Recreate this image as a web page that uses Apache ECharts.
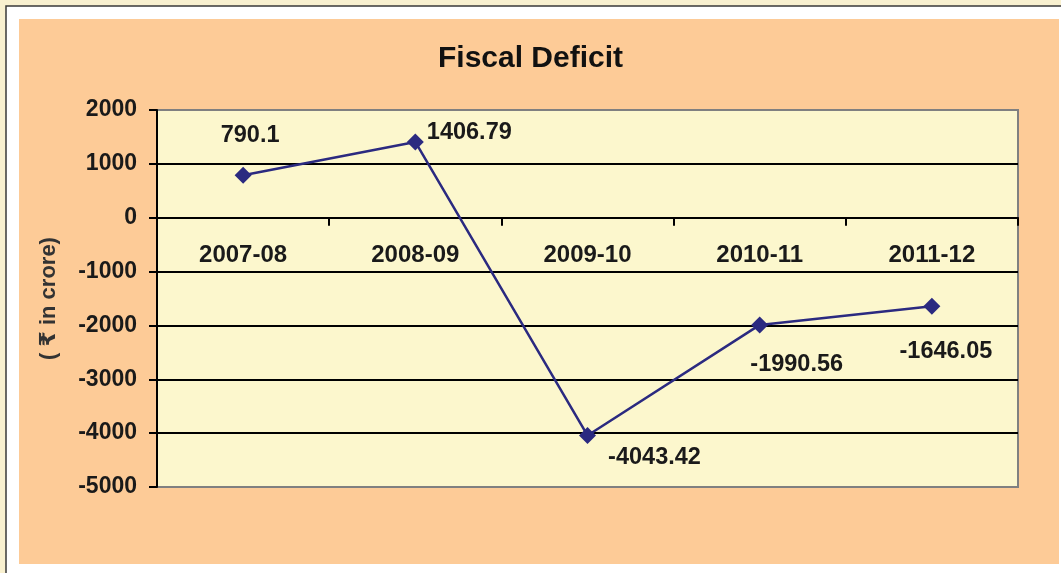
<!DOCTYPE html>
<html>
<head>
<meta charset="utf-8">
<script src="https://cdn.jsdelivr.net/npm/echarts@6/dist/echarts.min.js"></script>
<style>
html,body{margin:0;padding:0;background:#f9f1d0;}
#chart{width:1061px;height:573px;}
</style>
</head>
<body>
<div id="chart"></div>
<script>
const titleText = 'Fiscal Deficit';
const yAxisName = '( \u20B9 in crore)';
const categories = ['2007-08', '2008-09', '2009-10', '2010-11', '2011-12'];
const deficitValues = [790.1, 1406.79, -4043.42, -1990.56, -1646.05];
const yTicks = { min: -5000, max: 2000, interval: 1000 };

// label placement (style only)
const labelOffsets = [[7, -40], [54, -9], [67, 22], [37, 40], [14, 45]];

const FONT = "'Liberation Sans', Arial, 'DejaVu Sans', sans-serif";
const lineColor = '#2b2a80';

const gridBox = { left: 157, right: 43, top: 110, bottom: 86 };
const plotH = 573 - gridBox.top - gridBox.bottom;
// move category axis to the zero line
const zeroOffset = -plotH * (0 - yTicks.min) / (yTicks.max - yTicks.min);

const chart = echarts.init(document.getElementById('chart'), null, { renderer: 'canvas' });

const seriesData = deficitValues.map((v, i) => ({
  value: v,
  label: { offset: labelOffsets[i] }
}));

const nTicks = (yTicks.max - yTicks.min) / yTicks.interval + 1;
const splitColors = [];
for (let i = 0; i < nTicks; i++) splitColors.push(i === 0 || i === nTicks - 1 ? '#808080' : '#000000');

chart.setOption({
  backgroundColor: '#f9f1d0',
  animation: false,
  graphic: [
    { type: 'rect', z: -10, shape: { x: 6, y: 6, width: 1070, height: 580 },
      style: { fill: '#ffffff', stroke: '#3a3a3a', lineWidth: 1.5 } },
    { type: 'rect', z: -9, shape: { x: 19, y: 19, width: 1040, height: 545 },
      style: { fill: '#fdcb97' } }
  ],
  title: {
    text: titleText,
    left: 'center',
    top: 39,
    textStyle: { fontFamily: FONT, fontSize: 30, fontWeight: 'bold', color: '#111111' }
  },
  grid: Object.assign({
    show: true,
    backgroundColor: '#fcf7cd',
    borderColor: '#808080',
    borderWidth: 2
  }, gridBox),
  xAxis: {
    type: 'category',
    data: categories,
    boundaryGap: true,
    offset: zeroOffset,
    axisLine: { onZero: false, lineStyle: { color: '#000000', width: 2 } },
    axisTick: { show: true, alignWithLabel: false, length: 8, lineStyle: { color: '#000000', width: 2 } },
    axisLabel: { margin: 26, fontFamily: FONT, fontSize: 24, fontWeight: 'bold', color: '#1a1a1a' },
    splitLine: { show: false }
  },
  yAxis: {
    type: 'value',
    min: yTicks.min,
    max: yTicks.max,
    interval: yTicks.interval,
    name: yAxisName,
    nameLocation: 'middle',
    nameGap: 97,
    nameTextStyle: { fontFamily: FONT, fontSize: 22, fontWeight: 'bold', color: '#333333' },
    axisLine: { show: true, lineStyle: { color: '#000000', width: 2 } },
    axisTick: { show: true, length: 8, lineStyle: { color: '#000000', width: 2 } },
    axisLabel: { margin: 20, fontFamily: FONT, fontSize: 23, fontWeight: 'bold', color: '#1a1a1a',
      formatter: v => String(v) },
    splitLine: { show: true, lineStyle: { color: splitColors, width: 2 } }
  },
  series: [{
    type: 'line',
    data: seriesData,
    symbol: 'diamond',
    symbolSize: 17,
    itemStyle: { color: lineColor },
    lineStyle: { color: lineColor, width: 2.5 },
    label: {
      show: true,
      position: 'inside',
      fontFamily: FONT,
      fontSize: 23.5,
      fontWeight: 'bold',
      color: '#1a1a1a',
      formatter: p => String(p.value)
    }
  }]
});
</script>
</body>
</html>
